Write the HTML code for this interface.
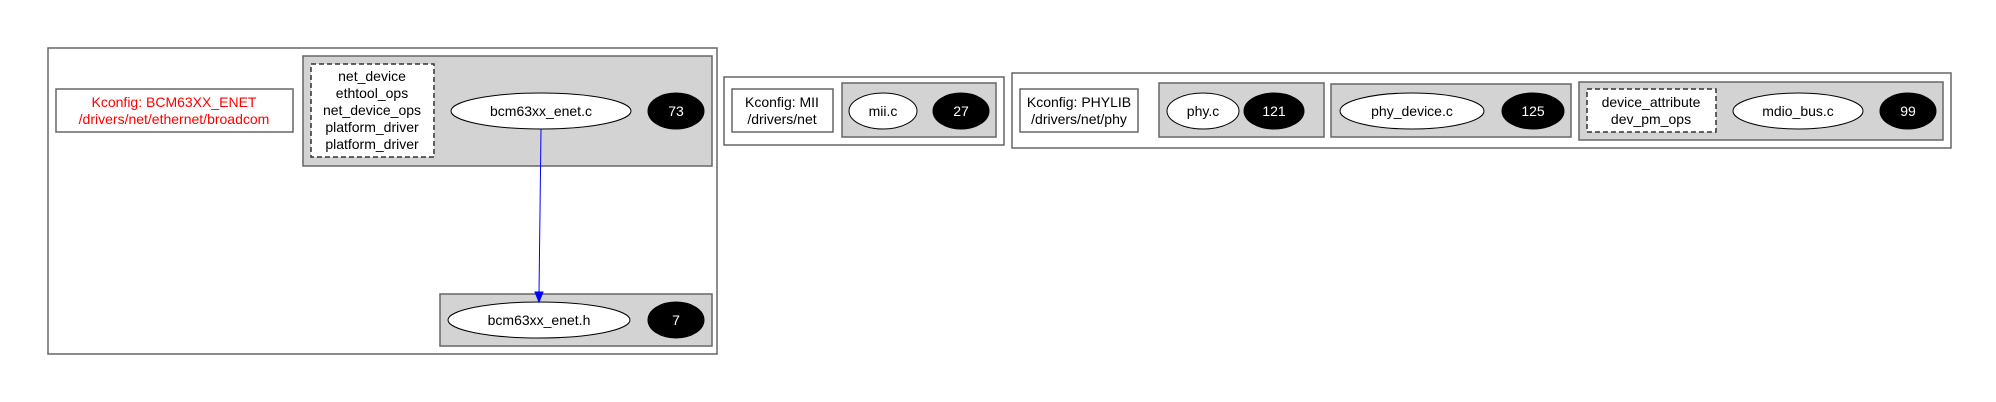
<!DOCTYPE html>
<html><head><meta charset="utf-8"><style>html,body{margin:0;padding:0;background:#fff}svg{display:block}text{font-family:"Liberation Sans",sans-serif;font-size:14px;text-anchor:middle}</style></head>
<body>
<svg width="1996" height="402" viewBox="0 0 1996 402" xmlns="http://www.w3.org/2000/svg">
<g stroke="#666" stroke-width="1.5">
<rect x="48" y="48" width="669" height="306" fill="#fff"/>
<rect x="56" y="89" width="237" height="43" fill="#fff"/>
<rect x="303" y="56" width="409" height="110" fill="#d3d3d3"/>
<rect x="311" y="64" width="123" height="93" fill="#fff" stroke="#333" stroke-dasharray="5,3"/>
<rect x="440" y="294" width="272" height="52" fill="#d3d3d3"/>

<rect x="724" y="77" width="280" height="68" fill="#fff"/>
<rect x="732" y="89" width="101" height="43" fill="#fff"/>
<rect x="842" y="83" width="154" height="54" fill="#d3d3d3"/>

<rect x="1012" y="73" width="939" height="75" fill="#fff"/>
<rect x="1020" y="89" width="118" height="43" fill="#fff"/>
<rect x="1159" y="83" width="165" height="54" fill="#d3d3d3"/>
<rect x="1331" y="84" width="240" height="53" fill="#d3d3d3"/>
<rect x="1579" y="82" width="364" height="58" fill="#d3d3d3"/>
<rect x="1587" y="89" width="129" height="43" fill="#fff" stroke="#333" stroke-dasharray="5,3"/>
</g>
<g stroke="#000" stroke-width="1">
<ellipse cx="541" cy="111" rx="90" ry="18" fill="#fff"/>
<ellipse cx="676" cy="111" rx="28" ry="18" fill="#000"/>
<ellipse cx="539" cy="320" rx="91" ry="18" fill="#fff"/>
<ellipse cx="676" cy="320" rx="28" ry="18" fill="#000"/>
<ellipse cx="883" cy="111" rx="34" ry="18" fill="#fff"/>
<ellipse cx="961" cy="111" rx="28" ry="18" fill="#000"/>
<ellipse cx="1203" cy="111" rx="36" ry="18" fill="#fff"/>
<ellipse cx="1274" cy="111" rx="30" ry="18" fill="#000"/>
<ellipse cx="1412" cy="111" rx="72" ry="18" fill="#fff"/>
<ellipse cx="1533" cy="111" rx="31" ry="18" fill="#000"/>
<ellipse cx="1798" cy="111" rx="65" ry="18" fill="#fff"/>
<ellipse cx="1908" cy="111" rx="28" ry="18" fill="#000"/>
</g>
<line x1="541" y1="129" x2="539" y2="294" stroke="#00f" stroke-width="1"/>
<polygon points="535,292 543,292 539,302" fill="#00f" stroke="#00f"/>

<g fill="#f00"><text x="174" y="107">Kconfig: BCM63XX_ENET</text><text x="174" y="124">/drivers/net/ethernet/broadcom</text></g>
<text x="372" y="81">net_device</text>
<text x="372" y="98">ethtool_ops</text>
<text x="372" y="115">net_device_ops</text>
<text x="372" y="132">platform_driver</text>
<text x="372" y="149">platform_driver</text>
<text x="541" y="116">bcm63xx_enet.c</text>
<text x="539" y="325">bcm63xx_enet.h</text>
<text x="782" y="107">Kconfig: MII</text><text x="782" y="124">/drivers/net</text>
<text x="883" y="116">mii.c</text>
<text x="1079" y="107">Kconfig: PHYLIB</text><text x="1079" y="124">/drivers/net/phy</text>
<text x="1203" y="116">phy.c</text>
<text x="1412" y="116">phy_device.c</text>
<text x="1651" y="107">device_attribute</text><text x="1651" y="124">dev_pm_ops</text>
<text x="1798" y="116">mdio_bus.c</text>
<g fill="#fff">
<text x="676" y="116">73</text><text x="676" y="325">7</text><text x="961" y="116">27</text>
<text x="1274" y="116">121</text><text x="1533" y="116">125</text><text x="1908" y="116">99</text>
</g>
</svg>
</body></html>
